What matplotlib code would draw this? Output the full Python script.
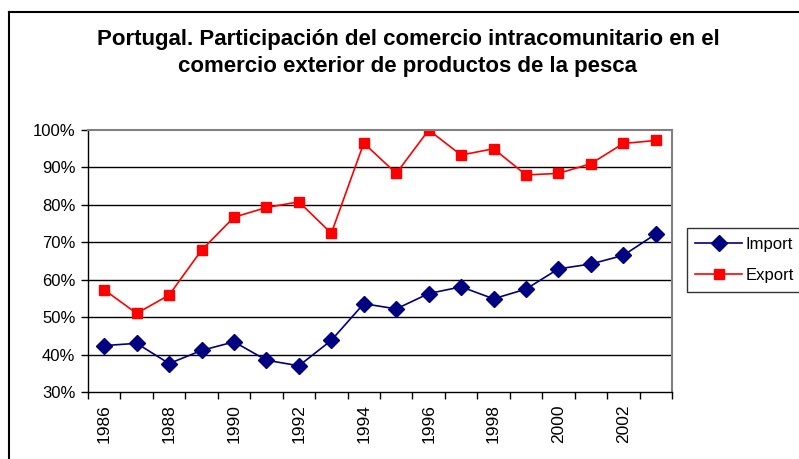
import numpy as np
import matplotlib
matplotlib.use("Agg")
import matplotlib.pyplot as plt
from matplotlib.lines import Line2D

plt.rcParams['font.family'] = ['Liberation Sans', 'DejaVu Sans']

years = list(range(1986, 2004))
imports = [42.4, 43.0, 37.6, 41.1, 43.4, 38.5, 37.0, 43.8, 53.6, 52.2,
           56.3, 58.1, 54.9, 57.5, 62.9, 64.2, 66.5, 72.2]
exports = [57.3, 51.0, 55.9, 67.9, 76.7, 79.3, 80.8, 72.4, 96.5, 88.4,
           100.0, 93.3, 95.0, 88.0, 88.4, 91.0, 96.4, 97.2]
title = ("Portugal. Participación del comercio intracomunitario en el\n"
         "comercio exterior de productos de la pesca")

W, H = 799, 459
fig = plt.figure(figsize=(W/100, H/100), dpi=100)
ax = fig.add_axes([88/W, 1-392/H, (672-88)/W, (392-130)/H])

x = np.arange(len(years))
ax.plot(x, imports, color='#000080', lw=1.2, marker='D', ms=8,
        label='Import')
ax.plot(x, exports, color='#ff0000', lw=1.2, marker='s', ms=7.5,
        label='Export')

ax.set_xlim(-0.5, len(years) - 0.5)
ax.set_ylim(30, 100)
yt = np.arange(30, 101, 10)
ax.set_yticks(yt)
ax.set_yticklabels([f"{v}%" for v in yt], fontsize=12)
for v in yt[1:-1]:
    ax.axhline(v, color='black', lw=1, zorder=0)

# ticks between categories, labels centered on every other year
ax.set_xticks(np.arange(-0.5, len(years), 1))
ax.set_xticklabels([])
ax.set_xticks(x[::2], minor=True)
ax.set_xticklabels([str(y) for y in years[::2]], minor=True,
                   rotation=90, fontsize=12.5)
ax.tick_params(axis='x', which='major', length=5, direction='out', width=1)
ax.tick_params(axis='x', which='minor', length=0, pad=9)
ax.tick_params(axis='y', length=5, direction='out', width=1, pad=4)

for s in ['top', 'right']:
    ax.spines[s].set_color('#808080')
    ax.spines[s].set_linewidth(1.5)
for s in ['left', 'bottom']:
    ax.spines[s].set_color('black')
    ax.spines[s].set_linewidth(1)

fig.text(408/W, 1-53/H, title, ha='center', va='center', fontsize=16,
         fontweight='bold', linespacing=1.4)

leg = fig.legend(loc='center left', bbox_to_anchor=(687/W, 1-260/H),
                 fontsize=12, frameon=True, fancybox=False,
                 edgecolor='black', handlelength=2.8, borderpad=0.5,
                 borderaxespad=0, labelspacing=1.0, handletextpad=0.2)
leg.get_frame().set_linewidth(1)

# outer chart border
fig.add_artist(Line2D([9/W, 9/W], [0, 1-12/H], color='black', lw=1.5,
                      transform=fig.transFigure))
fig.add_artist(Line2D([9/W, 1], [1-12/H, 1-12/H], color='black', lw=1.5,
                      transform=fig.transFigure))

fig.savefig('out.png', dpi=100)
